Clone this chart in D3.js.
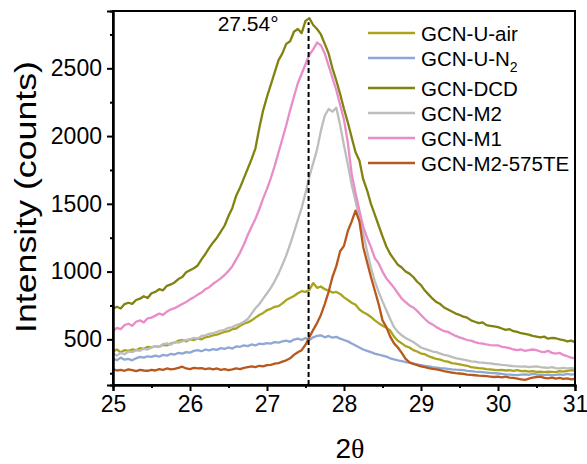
<!DOCTYPE html>
<html><head><meta charset="utf-8">
<script src="https://cdn.jsdelivr.net/npm/d3@7"></script>
<style>body{margin:0;background:#fff}svg{display:block}text{font-family:"Liberation Sans",Arial,sans-serif;fill:#000}</style>
</head><body><div id="chart"></div>
<script>
// 2θ grid (step 0.05 from 25 to 31)
const twoTheta = d3.range(0, 121).map(i => +(25 + i * 0.05).toFixed(2));

const seriesNames = ["GCN-U-air", "GCN-U-N2", "GCN-DCD", "GCN-M2", "GCN-M1", "GCN-M2-575TE"];
const seriesColors = ["#aaa31c", "#8ea7d4", "#81820f", "#bdbdbd", "#e98dc8", "#b8581c"];

const uAir = [
 410,425,405,420,415,425,420,435,430,445,
 440,450,445,460,455,470,475,490,495,485,
 500,495,505,500,515,520,530,535,545,555,
 560,575,580,600,615,625,640,660,680,695,
 715,725,740,745,765,790,805,820,840,855,
 850,865,915,880,890,870,860,845,850,835,
 810,790,770,755,720,700,685,665,640,620,
 600,585,565,520,490,470,450,440,420,410,
 395,390,375,365,355,350,340,335,325,320,
 315,310,305,295,292,288,285,280,278,275,
 272,275,270,272,268,272,265,268,262,265,
 260,262,258,262,260,258,265,262,268,272,
 270];
const uN2 = [
 360,345,365,350,355,345,360,370,365,375,
 370,380,372,385,380,392,388,400,395,405,
 402,415,420,412,425,418,428,422,435,430,
 440,432,448,445,455,450,462,455,468,465,
 472,468,480,475,485,490,482,498,505,495,
 510,495,515,525,530,515,525,512,518,505,
 495,485,470,455,440,425,415,405,395,388,
 380,372,360,352,345,340,332,328,322,315,
 310,305,300,295,292,288,285,282,278,276,
 275,272,268,265,262,260,258,255,252,250,
 248,245,242,240,238,236,240,242,238,245,
 242,240,236,240,235,238,242,238,245,240,
 244];
const dcd = [
 725,740,728,760,770,762,790,800,818,805,
 840,850,870,862,895,905,920,945,960,995,
 1010,1025,1045,1090,1130,1175,1215,1250,1295,1340,
 1410,1470,1560,1620,1690,1760,1830,1910,2060,2190,
 2290,2380,2470,2560,2610,2680,2700,2770,2790,2760,
 2850,2870,2820,2790,2750,2680,2610,2500,2410,2310,
 2200,2100,1990,1880,1820,1680,1600,1500,1420,1340,
 1260,1185,1130,1090,1050,1030,1000,985,960,925,
 900,860,830,800,775,760,735,720,705,690,
 680,668,660,640,630,620,625,605,600,595,
 590,580,570,575,560,555,545,540,535,525,
 520,515,520,505,510,508,500,495,485,490,
 480];
const m2 = [
 395,380,400,390,410,405,420,415,430,425,
 440,450,445,465,470,460,480,475,485,495,
 500,510,505,525,530,540,545,555,565,570,
 585,590,605,615,630,650,690,730,760,800,
 840,880,930,985,1050,1120,1200,1290,1380,1470,
 1580,1700,1800,1900,2040,2150,2200,2180,2210,2080,
 1930,1790,1640,1520,1400,1280,1150,1030,930,850,
 780,715,650,590,555,530,510,495,480,460,
 440,430,420,410,405,395,385,380,370,362,
 355,350,345,338,335,330,328,325,322,318,
 315,312,310,305,302,300,298,300,295,298,
 300,295,292,290,295,288,285,290,285,288,
 285];
const m1 = [
 560,585,575,605,615,600,630,640,625,655,
 660,675,690,680,705,720,730,745,760,775,
 795,810,830,845,870,885,910,930,950,975,
 1005,1040,1090,1140,1200,1270,1330,1390,1460,1540,
 1610,1690,1780,1880,1980,2080,2190,2290,2390,2460,
 2530,2600,2640,2690,2670,2610,2520,2430,2340,2230,
 2120,1950,1720,1580,1450,1330,1250,1180,1100,1060,
 1000,950,915,880,840,800,775,750,735,710,
 680,650,625,610,590,575,560,555,540,525,
 515,505,495,490,480,472,468,462,458,455,
 455,445,440,435,425,420,425,415,420,425,
 420,410,405,415,400,395,400,385,375,365,
 360];
const m2te = [
 280,270,275,268,278,272,265,275,270,268,
 275,270,280,275,285,278,282,290,298,285,
 280,290,285,288,280,285,278,285,275,280,
 272,278,285,280,290,295,300,295,305,300,
 310,312,320,325,335,345,360,385,405,420,
 460,515,570,620,680,760,850,960,1040,1150,
 1190,1300,1370,1450,1370,1180,1070,960,860,760,
 640,590,520,470,440,400,355,330,318,310,
 300,295,288,282,278,272,265,260,255,250,
 248,245,240,238,235,232,230,228,225,222,
 225,220,224,218,215,210,205,200,210,218,
 222,225,215,212,218,210,215,208,212,205,
 208];

const xTicks = [25, 26, 27, 28, 29, 30, 31];
const yTicks = [500, 1000, 1500, 2000, 2500];
const peakPos = 27.54;
const peakLabel = "27.54°";

const W = 587, H = 464;
const m = {left: 113, right: 12, top: 11, bottom: 79};
const svg = d3.select("#chart").append("svg").attr("width", W).attr("height", H);

const x = d3.scaleLinear().domain([25, 31]).range([m.left, W - m.right]);
const y = d3.scaleLinear().domain([163, 2923]).range([H - m.bottom, m.top]);

const allSeries = [uAir, uN2, dcd, m2, m1, m2te];
const line = d3.line().x((d, i) => x(twoTheta[i])).y(d => y(d));

const g = svg.append("g");
allSeries.forEach((s, k) => {
  g.append("path").datum(s).attr("d", line)
    .attr("fill", "none").attr("stroke", seriesColors[k])
    .attr("stroke-width", 2.3).attr("stroke-linejoin", "round");
});

// dashed peak line
svg.append("line")
  .attr("x1", x(peakPos)).attr("x2", x(peakPos))
  .attr("y1", y.range()[0]).attr("y2", y(d3.max(dcd)) + 4)
  .attr("stroke", "#000").attr("stroke-width", 2).attr("stroke-dasharray", "5,3");
svg.append("text").attr("x", x(peakPos) - 30).attr("y", 31)
  .attr("text-anchor", "end").style("font-size", "21px").text(peakLabel);

// frame
svg.append("rect").attr("x", m.left).attr("y", m.top)
  .attr("width", W - m.right - m.left).attr("height", H - m.bottom - m.top)
  .attr("fill", "none").attr("stroke", "#000").attr("stroke-width", 2);

// axes
const xAxis = d3.axisBottom(x).tickValues(xTicks).tickSize(6).tickPadding(5).tickFormat(d3.format("d"));
const xMinor = d3.axisBottom(x).tickValues(d3.range(25.5, 31, 1)).tickSize(3).tickFormat("");
const yAxis = d3.axisLeft(y).tickValues(yTicks).tickSize(6).tickPadding(5).tickFormat(d3.format("d"));
const yMinor = d3.axisLeft(y).tickValues([250, 750, 1250, 1750, 2250, 2750]).tickSize(3).tickFormat("");

function style(sel) {
  sel.select(".domain").attr("stroke-width", 2);
  sel.selectAll(".tick line").attr("stroke-width", 2);
  sel.selectAll("text").style("font-size", "23px").attr("fill", "#000")
    .style("font-family", '"Liberation Sans", Arial, sans-serif');
}
svg.append("g").attr("transform", `translate(0,${H - m.bottom})`).call(xAxis).call(style);
svg.append("g").attr("transform", `translate(0,${H - m.bottom})`).call(xMinor).call(style);
svg.append("g").attr("transform", `translate(${m.left},0)`).call(yAxis).call(style);
svg.append("g").attr("transform", `translate(${m.left},0)`).call(yMinor).call(style);

// axis titles
svg.append("text").attr("transform", `translate(36,197) rotate(-90)`)
  .attr("text-anchor", "middle").style("font-size", "30px")
  .attr("textLength", 272).attr("lengthAdjust", "spacingAndGlyphs").text("Intensity (counts)");
const xt = svg.append("text").attr("x", (m.left + W - m.right) / 2 + 6).attr("y", 458)
  .attr("text-anchor", "middle").style("font-size", "28px");
xt.append("tspan").text("2");
xt.append("tspan").style("font-family", '"Liberation Serif", serif').text("θ");

// legend
const leg = svg.append("g");
const legY = [33, 58, 88, 113, 138, 163];
seriesNames.forEach((n, k) => {
  leg.append("line").attr("x1", 368).attr("x2", 415).attr("y1", legY[k]).attr("y2", legY[k])
    .attr("stroke", seriesColors[k]).attr("stroke-width", 2.5);
  const t = leg.append("text").attr("x", 421).attr("y", legY[k] + 7.5).style("font-size", "20.5px");
  if (n === "GCN-U-N2") {
    t.append("tspan").text("GCN-U-N");
    t.append("tspan").attr("dy", 6).style("font-size", "14px").text("2");
  } else t.text(n);
});
</script></body></html>
